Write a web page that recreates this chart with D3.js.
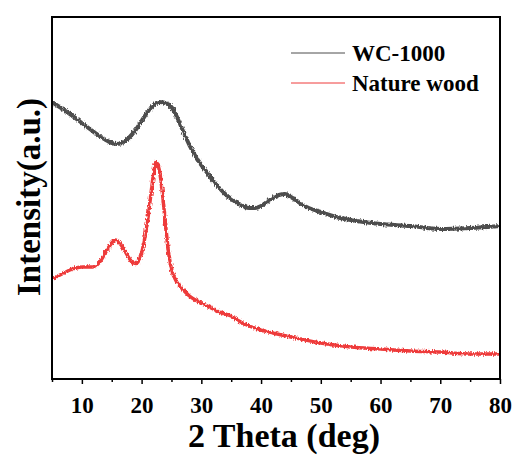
<!DOCTYPE html>
<html>
<head>
<meta charset="utf-8">
<script src="https://cdn.jsdelivr.net/npm/d3@7"></script>
<style>
  body { margin: 0; background: #fff; }
  text { font-family: "Liberation Serif", "Times New Roman", serif; font-weight: bold; }
</style>
</head>
<body>
<div id="chart"></div>
<script>
// 2 theta (deg) and intensity (a.u.)
var wcTheta = [5, 6, 8, 10, 12, 14, 15, 16, 17, 18, 19, 20, 21, 22, 23, 24, 25, 26, 27, 28, 29, 30,
               31, 32, 33, 34, 35, 36, 37, 38, 39, 40, 41, 42, 43, 44, 45, 46, 47, 48, 50, 52,
               55, 60, 65, 70, 75, 80];
var wcValue = [277, 273, 265, 256, 247, 239, 236, 235, 237, 242, 249, 258, 267, 274, 277, 276,
               272, 261, 247, 234, 223, 214, 206, 198, 191, 185, 180, 176, 173, 171, 171, 173,
               177, 181, 184, 185, 182, 178, 174, 171, 167, 163, 159, 155, 153, 150, 151, 153];

var woodTheta = [5, 6, 7, 8, 9, 10, 11, 12, 13, 14, 15, 15.5, 16, 17, 18, 18.8, 19.5, 20, 20.5,
                 21, 21.5, 22, 22.4, 23, 23.5, 24, 24.5, 25, 26, 27, 28, 30, 32, 33, 34, 35, 36,
                 38, 40, 42, 45, 50, 55, 60, 65, 70, 75, 80];
var woodValue = [100, 103, 106, 109, 111, 112, 112, 112, 117, 127, 136, 139, 138, 130, 120, 115,
                 118, 126, 140, 158, 182, 205, 217, 208, 185, 155, 127, 110, 96, 89, 83, 76, 70,
                 67, 65, 63, 59, 53, 49, 46, 42, 36, 32, 30, 28, 27, 25, 25];

var xTicks = [10, 20, 30, 40, 50, 60, 70, 80];
var xMinor = [5, 15, 25, 35, 45, 55, 65, 75];
var seriesNames = ["WC-1000", "Nature wood"];
var seriesColors = ["#4d4d4d", "#ee3b3b"];

function init() {
    var width = 515;
    var height = 458;
    var left = 52, right = 500, top = 17, bottom = 379;

    var svg = d3.select("#chart")
                .append("svg")
                .attr("width", width)
                .attr("height", height);

    var xScale = d3.scaleLinear()
                   .domain([5, 80])
                   .range([left, right]);

    var yScale = d3.scaleLinear()
                   .domain([0, 362])
                   .range([bottom, top]);

    var line = d3.line()
                 .x(function(d) { return xScale(d[0]); })
                 .y(function(d) { return yScale(d[1]); })
                 .curve(d3.curveMonotoneX);

    var series = [
        d3.zip(wcTheta, wcValue),
        d3.zip(woodTheta, woodValue)
    ];

    var defs = svg.append("defs");
    defs.append("clipPath").attr("id", "clip")
        .append("rect")
        .attr("x", left).attr("y", top)
        .attr("width", right - left).attr("height", bottom - top);

    // rough edge so the traces look like noisy detector data
    var rough = defs.append("filter").attr("id", "rough")
        .attr("x", "-5%").attr("y", "-5%").attr("width", "110%").attr("height", "110%");
    rough.append("feTurbulence")
        .attr("type", "fractalNoise")
        .attr("baseFrequency", "0.9 0.3")
        .attr("numOctaves", 2)
        .attr("seed", 3)
        .attr("result", "noise");
    rough.append("feDisplacementMap")
        .attr("in", "SourceGraphic")
        .attr("in2", "noise")
        .attr("scale", 4)
        .attr("xChannelSelector", "R")
        .attr("yChannelSelector", "G");

    svg.append("g")
        .attr("clip-path", "url(#clip)")
        .selectAll("path")
        .data(series)
        .enter()
        .append("path")
        .attr("d", line)
        .attr("fill", "none")
        .attr("stroke", function(d, i) { return seriesColors[i]; })
        .attr("stroke-width", function(d, i) { return i == 0 ? 4 : 3.5; })
        .attr("stroke-linejoin", "round")
        .attr("filter", "url(#rough)");

    // Draw X Axis
    var xAxis = d3.axisBottom(xScale)
                  .tickValues(xTicks)
                  .tickSize(5)
                  .tickPadding(13)
                  .tickFormat(d3.format("d"));

    var gx = svg.append("g")
        .attr("transform", "translate(0," + bottom + ")")
        .call(xAxis);
    gx.select(".domain").remove();
    gx.selectAll(".tick line").attr("stroke", "#000").attr("stroke-width", 1.5);
    gx.selectAll(".tick text")
        .attr("font-size", 23)
        .attr("fill", "#000");

    var gxm = svg.append("g")
        .attr("transform", "translate(0," + bottom + ")")
        .call(d3.axisBottom(xScale).tickValues(xMinor).tickSize(3).tickFormat(""));
    gxm.select(".domain").remove();
    gxm.selectAll(".tick line").attr("stroke", "#000").attr("stroke-width", 1.5);

    // frame
    svg.append("rect")
        .attr("x", left).attr("y", top)
        .attr("width", right - left).attr("height", bottom - top)
        .attr("fill", "none")
        .attr("stroke", "#000")
        .attr("stroke-width", 2);

    // axis titles
    svg.append("text")
        .attr("x", 284)
        .attr("y", 447)
        .attr("text-anchor", "middle")
        .attr("font-size", 34)
        .text("2 Theta (deg)");

    svg.append("text")
        .attr("transform", "translate(40,197) rotate(-90)")
        .attr("text-anchor", "middle")
        .attr("font-size", 33)
        .text("Intensity(a.u.)");

    // legend
    var legend = svg.selectAll("g.legend")
        .data(seriesNames)
        .enter()
        .append("g")
        .attr("class", "legend")
        .attr("transform", function(d, i) { return "translate(291," + (53 + i * 30) + ")"; });

    legend.append("line")
        .attr("x1", 0).attr("x2", 54)
        .attr("y1", 0).attr("y2", 0)
        .attr("stroke", function(d, i) { return seriesColors[i]; })
        .attr("stroke-width", 1);

    legend.append("text")
        .attr("x", 61)
        .attr("y", 8)
        .attr("font-size", 23)
        .text(function(d) { return d; });
}

window.onload = init;
</script>
</body>
</html>
